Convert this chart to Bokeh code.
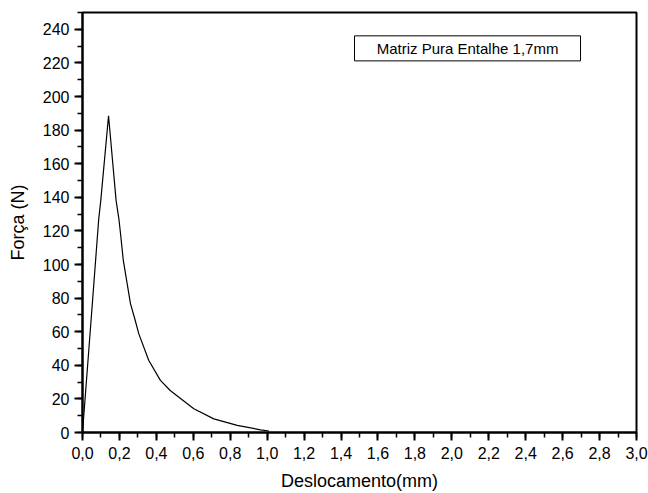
from bokeh.plotting import figure
from bokeh.models import Range1d, LinearAxis, FixedTicker, CustomJSTickFormatter
from bokeh.embed import file_html
from bokeh.resources import INLINE
from bokeh.core.properties import value

# ---- data ----
desloc = [0.0, 0.047, 0.088, 0.099, 0.141, 0.182, 0.197, 0.206, 0.221, 0.26,
          0.283, 0.305, 0.359, 0.422, 0.475, 0.522, 0.603, 0.711, 0.838, 0.964, 1.01]
forca = [0.0, 67.7, 127.2, 138.0, 188.5, 138.0, 127.2, 118.3, 102.4, 76.6,
         67.7, 58.7, 42.9, 31.0, 25.0, 21.0, 14.1, 8.1, 4.2, 1.6, 0.9]

x_major = [round(0.2 * i, 1) for i in range(16)]
x_minor = [round(0.1 * i, 1) for i in range(31)]
y_major = [20 * i for i in range(13)]
y_minor = [10 * i for i in range(26)]

legend_text = "Matriz Pura Entalhe 1,7mm"
x_label = "Deslocamento(mm)"
y_label = "Força (N)"

FONT = "Liberation Sans"

p = figure(frame_width=554, frame_height=420, output_backend="svg", toolbar_location=None,
           x_range=Range1d(0, 3.0), y_range=Range1d(0, 250),
           x_axis_location=None, y_axis_location=None,
           min_border_left=82, min_border_right=12, min_border_top=12, min_border_bottom=61)
p.grid.visible = False
p.outline_line_color = "black"
p.outline_line_width = 2
p.background_fill_color = "white"
p.border_fill_color = "white"

fmt = CustomJSTickFormatter(code="return tick.toFixed(1).replace('.', ',');")


def style(ax):
    ax.axis_line_color = "black"
    ax.axis_line_width = 2
    ax.major_tick_line_color = "black"
    ax.minor_tick_line_color = "black"
    ax.major_tick_line_width = 2
    ax.minor_tick_line_width = 1.5
    ax.major_tick_in = 0
    ax.major_tick_out = 8
    ax.minor_tick_in = 0
    ax.minor_tick_out = 5
    ax.major_label_text_font = FONT
    ax.major_label_text_font_size = "16px"
    ax.major_label_text_color = "black"
    ax.axis_label_text_font = FONT
    ax.axis_label_text_font_size = "18px"
    ax.axis_label_text_font_style = "normal"
    ax.axis_label_text_color = "black"


xb = LinearAxis(ticker=FixedTicker(ticks=x_major, minor_ticks=x_minor), formatter=fmt,
                axis_label=x_label)
style(xb)
xb.major_label_standoff = 6
xb.axis_label_standoff = 9
p.add_layout(xb, "below")

yl = LinearAxis(ticker=FixedTicker(ticks=y_major, minor_ticks=y_minor), axis_label=y_label)
style(yl)
yl.major_label_standoff = 5
yl.axis_label_standoff = 12
p.add_layout(yl, "left")

p.line(desloc, forca, line_color="black", line_width=1.2)

# legend-like box
p.quad(left=[1.473], right=[2.697], bottom=[221.2], top=[236.1],
       fill_color="white", line_color="black", line_width=1)
p.text(x=[2.085], y=[228.6], text=[legend_text], text_align="center",
       text_baseline="middle", text_font=value(FONT), text_font_size="15px",
       text_color="black")

open("out.html", "w").write(file_html(p, INLINE))
